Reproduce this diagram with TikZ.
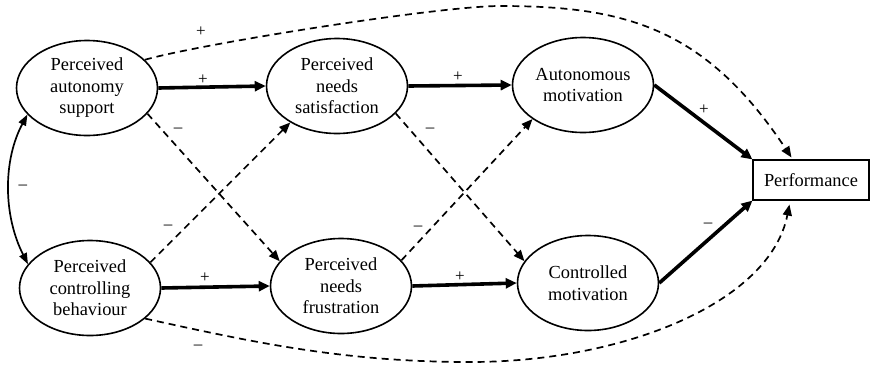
\documentclass[tikz,border=0pt]{standalone}
\usepackage{fontspec}
\setmainfont{Liberation Serif}
\usetikzlibrary{shapes.geometric,arrows.meta,calc}
\begin{document}
\begin{tikzpicture}[x=1pt,y=-1pt,
  ell/.style={draw,ellipse,line width=1.6pt,inner sep=0pt,minimum width=141pt,minimum height=95pt,align=center,font=\fontsize{18.4}{21.5}\selectfont},
  box/.style={draw,line width=1.1pt,inner sep=0pt,minimum width=116pt,minimum height=40pt,font=\fontsize{18.4}{21.5}\selectfont},
  strong/.style={line width=3.6pt,-{Triangle[length=11pt,width=10pt]}},
  dsh/.style={line width=1.7pt,dash pattern=on 7pt off 5pt,-{Triangle[length=11pt,width=9pt]}},
  corr/.style={line width=1.7pt,{Triangle[length=11pt,width=8pt]}-{Triangle[length=11pt,width=8pt]}},
  lbl/.style={inner sep=0pt,font=\fontsize{17}{17}\selectfont}
]
\useasboundingbox (0,0) rectangle (871,365);

\node[ell] (A) at (87,88) {Perceived\\autonomy\\support};
\node[ell] (C) at (90,288) {Perceived\\controlling\\behaviour};
\node[ell] (S) at (337,86) {Perceived\\needs\\satisfaction};
\node[ell] (F) at (341,286) {Perceived\\needs\\frustration};
\node[ell] (AM) at (583,85) {Autonomous\\motivation};
\node[ell] (CM) at (588,283) {Controlled\\motivation};
\node[box] (P) at (811,180) {Performance};

\coordinate (Ptop) at ($(P.north west)+(39,-2)$);
\coordinate (Pbot) at ($(P.south west)+(37,4)$);

% strong paths
\draw[strong] (A.east) -- (S.west);
\draw[strong] (S.east) -- (AM.west);
\draw[strong] (C.east) -- (F.west);
\draw[strong] (F.east) -- (CM.west);
\draw[strong] (AM.east) -- (P.north west);
\draw[strong] (CM.east) -- (P.south west);

% dashed crossing paths
\draw[dsh] (A.-23) -- (F.158);
\draw[dsh] (C.23) -- (S.218);
\draw[dsh] (S.-25) -- (CM.161);
\draw[dsh] (F.23) -- (AM.214);

% long curves
\draw[dsh] (A.26) .. controls (200,44) and (439,6) .. (500,6)
  .. controls (624,6) and (705,27) .. (Ptop);
\draw[dsh] (C.-29) .. controls (252,342) and (343,362) .. (470,362)
  .. controls (623,362) and (770,303) .. (Pbot);

% correlation
\draw[corr] (A.204) .. controls (3,160) and (3,215) .. (C.159);

% labels
\node[lbl] (l1) at (203,80) {+};
\node[lbl] (l2) at (458,77) {+};
\node[lbl] (l3) at (205,278) {+};
\node[lbl] (l4) at (460,277) {+};
\node[lbl] (l5) at (704,110) {+};
\node[lbl] (l6) at (708,225) {–};
\node[lbl] (l7) at (178,130) {–};
\node[lbl] (l8) at (168,227) {–};
\node[lbl] (l9) at (430,130) {–};
\node[lbl] (l10) at (418,228) {–};
\node[lbl] (l11) at (23,187) {–};
\node[lbl] (l12) at (201,32) {+};
\node[lbl] (l13) at (198,347) {–};
\end{tikzpicture}
\end{document}
